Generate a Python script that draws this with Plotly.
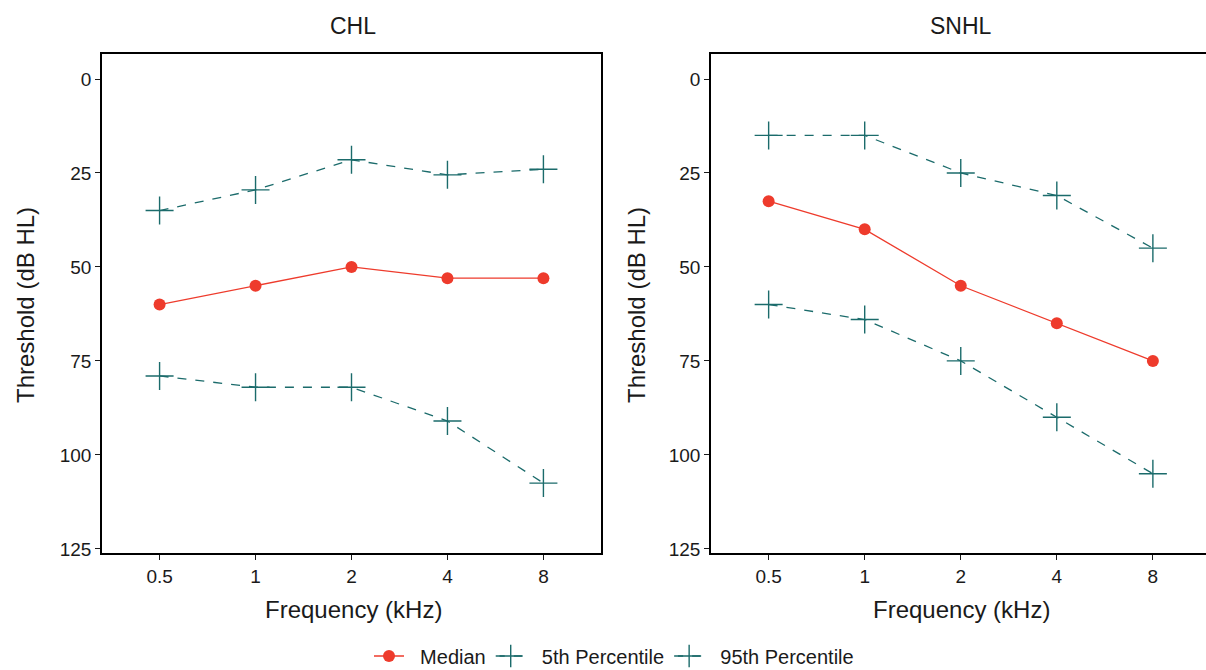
import plotly.graph_objects as go
from plotly.subplots import make_subplots

freqs = ["0.5", "1", "2", "4", "8"]
tick_vals_y = [0, 25, 50, 75, 100, 125]

chl_median = [60, 55, 50, 53, 53]
chl_p5 = [35, 29.5, 21.5, 25.5, 24]
chl_p95 = [79, 82, 82, 91, 107.5]

snhl_median = [32.5, 40, 55, 65, 75]
snhl_p5 = [15, 15, 25, 31, 45]
snhl_p95 = [60, 64, 75, 90, 105]

series_names = ["Median", "5th Percentile", "95th Percentile"]

RED = "#EE3B2C"
TEAL = "#1B6B6B"
FONT = "Arial, Liberation Sans, sans-serif"
TXT = "#1a1a1a"
PAD = "\u00a0\u00a0"

fig = make_subplots(rows=1, cols=2)

panels = [(1, chl_median, chl_p5, chl_p95), (2, snhl_median, snhl_p5, snhl_p95)]
for col, med, p5, p95 in panels:
    show = col == 1
    fig.add_trace(go.Scatter(x=list(range(len(freqs))), y=med, mode="lines+markers", name=PAD + series_names[0],
                             line=dict(color=RED, width=1.3),
                             marker=dict(symbol="circle", size=12, color=RED),
                             showlegend=show, legendgroup="m"), row=1, col=col)
    fig.add_trace(go.Scatter(x=list(range(len(freqs))), y=p5, mode="lines+markers", name=PAD + series_names[1],
                             line=dict(color=TEAL, width=1.3, dash="dash"),
                             marker=dict(symbol="cross-thin", size=20, line=dict(color=TEAL, width=1.4)),
                             showlegend=show, legendgroup="p5"), row=1, col=col)
    fig.add_trace(go.Scatter(x=list(range(len(freqs))), y=p95, mode="lines+markers", name=PAD + series_names[2],
                             line=dict(color=TEAL, width=1.3, dash="dash"),
                             marker=dict(symbol="cross-thin", size=20, line=dict(color=TEAL, width=1.4)),
                             showlegend=show, legendgroup="p95"), row=1, col=col)

W, H = 1206, 670
top, bottom = 54, 553
ph = bottom - top

axis_common = dict(showgrid=False, zeroline=False, showline=True, linecolor="black", linewidth=1.5,
                   ticks="outside", ticklen=5, tickwidth=1, tickcolor=TXT, automargin=False,
                   tickfont=dict(family=FONT, size=19, color=TXT))

fig.update_xaxes(**axis_common, tickmode="array", tickvals=list(range(len(freqs))), ticktext=freqs)
fig.update_yaxes(**axis_common, tickmode="array", tickvals=tick_vals_y)

fig.update_layout(
    xaxis=dict(domain=[102 / W, 601 / W], range=[-0.6, 4.6], mirror=True),
    yaxis=dict(range=[126.1, -6.65], mirror=True),
    xaxis2=dict(domain=[711 / W, 1.0], range=[-0.6, 4.553], mirror=True),
    yaxis2=dict(range=[126.1, -6.65], mirror=False),
)

def py(pix):
    return (bottom - pix) / ph

annots = []
for cx, title in [(353, "CHL"), (961, "SNHL")]:
    annots.append(dict(x=cx / W, y=py(26), xref="paper", yref="paper", text=title, showarrow=False,
                       font=dict(family=FONT, size=23, color=TXT), xanchor="center", yanchor="middle"))
    annots.append(dict(x=cx / W, y=py(609), xref="paper", yref="paper", text="Frequency (kHz)", showarrow=False,
                       font=dict(family=FONT, size=24, color=TXT), xanchor="center", yanchor="middle"))
for cx in [25, 636]:
    annots.append(dict(x=cx / W, y=py(305), xref="paper", yref="paper", text="Threshold (dB HL)", showarrow=False,
                       textangle=-90, font=dict(family=FONT, size=24, color=TXT), xanchor="center", yanchor="middle"))

fig.update_layout(
    width=W, height=H,
    margin=dict(l=0, r=0, t=top, b=H - bottom, autoexpand=False),
    paper_bgcolor="white", plot_bgcolor="white",
    annotations=annots,
    showlegend=True,
    legend=dict(orientation="h", x=614 / W, xanchor="center", y=py(656), yanchor="middle",
                font=dict(family=FONT, size=20, color=TXT), itemwidth=30, tracegroupgap=0,
                bgcolor="rgba(0,0,0,0)"),
)

fig.write_html("out.html", config={"displayModeBar": False},
               post_script="document.body.style.margin='0';document.body.style.padding='0';document.body.style.overflow='hidden';")
